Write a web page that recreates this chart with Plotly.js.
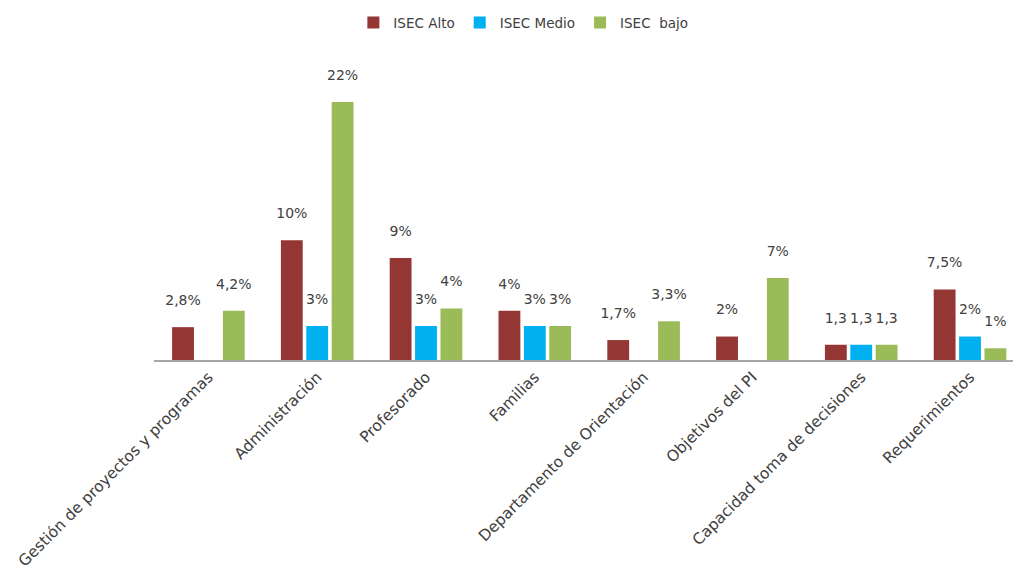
<!DOCTYPE html>
<html>
<head>
<meta charset="utf-8">
<script src="https://cdn.plot.ly/plotly-3.0.1.min.js"></script>
<style>html,body{margin:0;padding:0;background:#fff;}#chart{width:1013px;height:575px;}</style>
</head>
<body>
<div id="chart"></div>
<script>
const categories = [
  "Gestión de proyectos y programas",
  "Administración",
  "Profesorado",
  "Familias",
  "Departamento de Orientación",
  "Objetivos del PI",
  "Capacidad toma de decisiones",
  "Requerimientos"
];
const seriesNames = ["ISEC Alto", "ISEC Medio", "ISEC \u00a0bajo"];
const altoValues  = [2.8, 10.2, 8.7, 4.2, 1.7, 2.0, 1.3, 6.0];
const medioValues = [null, 2.9, 2.9, 2.9, null, null, 1.3, 2.0];
const bajoValues  = [4.2, 22.0, 4.4, 2.9, 3.3, 7.0, 1.3, 1.0];
const altoLabels  = ["2,8%", "10%", "9%", "4%", "1,7%", "2%", "1,3", "7,5%"];
const medioLabels = ["", "3%", "3%", "3%", "", "", "1,3", "2%"];
const bajoLabels  = ["4,2%", "22%", "4%", "3%", "3,3%", "7%", "1,3", "1%"];
const colors = ["#943634", "#00B0F0", "#9BBB59"];

const FONT = "DejaVu Sans, sans-serif";
function mk(name, vals, labels, color) {
  return {
    type: "bar", name: name, x: categories, y: vals,
    text: labels.map(t => t ? t + "<br><span style='font-size:6px'> </span>" : ""),
    textposition: "outside", cliponaxis: false, constraintext: "none",
    textfont: {family: FONT, size: 14, color: "#404040"},
    marker: {color: color},
    hoverinfo: "x+y"
  };
}
const data = [
  mk(seriesNames[0], altoValues, altoLabels, colors[0]),
  mk(seriesNames[1], medioValues, medioLabels, colors[1]),
  mk(seriesNames[2], bajoValues, bajoLabels, colors[2])
];
const layout = {
  width: 1013, height: 575,
  margin: {l: 154, r: 0, t: 80, b: 215},
  paper_bgcolor: "#fff", plot_bgcolor: "#fff",
  barmode: "group", bargap: 0.3, bargroupgap: 0.14,
  font: {family: FONT, size: 14, color: "#404040"},
  showlegend: true,
  legend: {orientation: "h", x: 0.43, xanchor: "center", y: 1.26, yanchor: "top",
           itemwidth: 30,
           font: {family: FONT, size: 13.5, color: "#404040"}, traceorder: "normal"},
  xaxis: {
    type: "category", range: [-0.5, 7.395], tickangle: -45,
    showline: true, linecolor: "#a6a6a6", linewidth: 2,
    ticks: "", showgrid: false, zeroline: false,
    tickfont: {family: FONT, size: 15.5, color: "#404040"}
  },
  yaxis: {range: [0, 23.87], visible: false, showgrid: false, zeroline: false}
};
Plotly.newPlot("chart", data, layout, {displayModeBar: false, staticPlot: true});
</script>
</body>
</html>
